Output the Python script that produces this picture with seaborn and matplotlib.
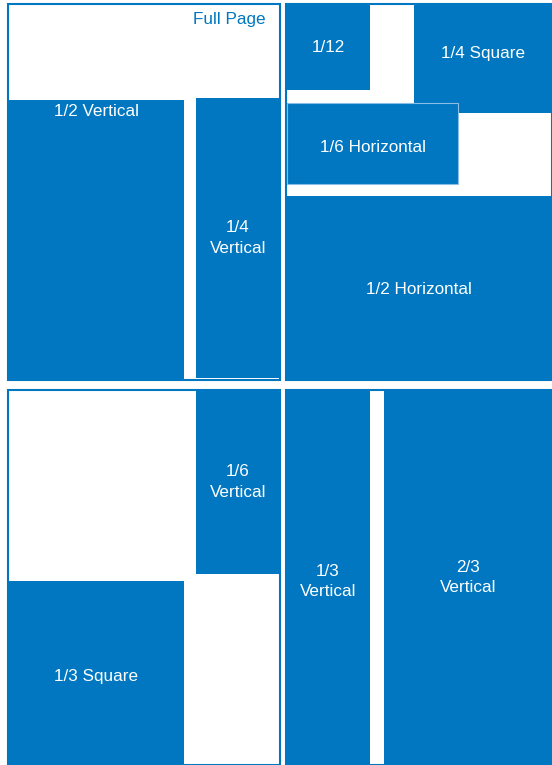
import matplotlib
matplotlib.use("Agg")
import matplotlib.pyplot as plt
import seaborn as sns

sns.set_theme(style="white")
plt.rcParams["font.family"] = ["Liberation Sans", "DejaVu Sans"]

_blue = "#0077c0"
_edge = "#8cbde3"

# layout units (page pixels), origin top-left
page_left = [8, 286, 8, 286]
page_top = [4, 4, 390, 390]
page_width = [272, 266, 272, 266]
page_height = [376, 376, 375, 375]

ad_names = ["1/2 Vertical", "1/4\nVertical", "1/12", "1/4 Square", "1/6 Horizontal",
            "1/2 Horizontal", "1/6\nVertical", "1/3 Square", "1/3\nVertical", "2/3\nVertical"]
ad_left = [8, 196, 286, 414, 287, 286, 196, 8, 286, 384]
ad_top = [100, 98, 4, 4, 103, 196, 390, 581, 390, 390]
ad_width = [176, 84, 84, 138, 171, 266, 84, 176, 84, 168]
ad_height = [280, 280, 86, 109, 81, 184, 184, 184, 375, 375]
label_pos = [0.04, 0.5, 0.5, 0.45, 0.55, 0.51, 0.5, 0.52, 0.51, 0.5]

fig = plt.figure(figsize=(5.52, 7.65), dpi=100)
ax = fig.add_axes([0, 0, 1, 1])

# page outlines
ax.bar(page_left, page_height, width=page_width, bottom=page_top, align="edge",
       fill=False, edgecolor=_blue, linewidth=1.5)

# ad blocks
ax.bar(ad_left, ad_height, width=ad_width, bottom=ad_top, align="edge",
       color=_blue, edgecolor=_blue, linewidth=0)
# light outline on 1/6 Horizontal
ax.bar(ad_left[4], ad_height[4], width=ad_width[4], bottom=ad_top[4], align="edge",
       fill=False, edgecolor=_edge, linewidth=0.8)

for name, x, y, w, h, p in zip(ad_names, ad_left, ad_top, ad_width, ad_height, label_pos):
    ax.text(x + w / 2, y + h * p, name, color="white", fontsize=12.3,
            ha="center", va="center", linespacing=1.45)

ax.text(266, 19, "Full Page", color=_blue, fontsize=12.3, ha="right", va="center")

ax.set_xlim(0, 552)
ax.set_ylim(765, 0)
ax.axis("off")

fig.savefig("out.png", dpi=100)
